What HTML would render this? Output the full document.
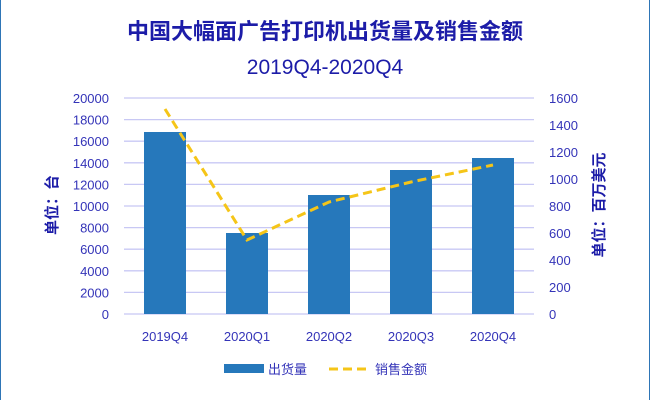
<!DOCTYPE html><html><head><meta charset="utf-8"><style>body{margin:0;background:#fff}svg{display:block}</style></head><body>
<svg width="650" height="400" xmlns="http://www.w3.org/2000/svg" font-family="Liberation Sans, Noto Sans CJK SC, sans-serif">
<rect x="0.5" y="-2" width="649" height="404" fill="#fff" stroke="#2e75b6" stroke-width="1"/>
<text x="325" y="39" text-anchor="middle" font-size="22" font-weight="bold" fill="#1c1ca8" font-family="Noto Sans CJK SC, sans-serif">中国大幅面广告打印机出货量及销售金额</text>
<text x="325" y="74" text-anchor="middle" font-size="21" fill="#1c1ca8">2019Q4-2020Q4</text>
<g stroke="#c8c8f4" stroke-width="1.3">
<line x1="124" x2="534" y1="98" y2="98"/><line x1="124" x2="534" y1="119.6" y2="119.6"/><line x1="124" x2="534" y1="141.2" y2="141.2"/><line x1="124" x2="534" y1="162.8" y2="162.8"/><line x1="124" x2="534" y1="184.4" y2="184.4"/><line x1="124" x2="534" y1="206" y2="206"/><line x1="124" x2="534" y1="227.6" y2="227.6"/><line x1="124" x2="534" y1="249.2" y2="249.2"/><line x1="124" x2="534" y1="270.8" y2="270.8"/><line x1="124" x2="534" y1="292.4" y2="292.4"/><line x1="124" x2="534" y1="314" y2="314"/>
</g>
<g fill="#2678bb">
<rect x="144" y="132" width="42" height="182"/><rect x="226" y="233" width="42" height="81"/><rect x="308" y="195" width="42" height="119"/><rect x="390" y="170" width="42" height="144"/><rect x="472" y="158" width="42" height="156"/>
</g>
<polyline points="165,109 247,240 329,202 411,182 493,165" fill="none" stroke="#f5c518" stroke-width="3" stroke-dasharray="9,5"/>
<g font-size="13" fill="#3434b8" text-anchor="end">
<text x="109" y="103">20000</text><text x="109" y="124.6">18000</text><text x="109" y="146.2">16000</text><text x="109" y="167.8">14000</text><text x="109" y="189.4">12000</text><text x="109" y="211">10000</text><text x="109" y="232.6">8000</text><text x="109" y="254.2">6000</text><text x="109" y="275.8">4000</text><text x="109" y="297.4">2000</text><text x="109" y="319">0</text>
</g>
<g font-size="13" fill="#3434b8" text-anchor="start">
<text x="549" y="103">1600</text><text x="549" y="130">1400</text><text x="549" y="157">1200</text><text x="549" y="184">1000</text><text x="549" y="211">800</text><text x="549" y="238">600</text><text x="549" y="265">400</text><text x="549" y="292">200</text><text x="549" y="319">0</text>
</g>
<g font-size="13" fill="#3434b8" text-anchor="middle">
<text x="165" y="341">2019Q4</text><text x="247" y="341">2020Q1</text><text x="329" y="341">2020Q2</text><text x="411" y="341">2020Q3</text><text x="493" y="341">2020Q4</text>
</g>
<text transform="translate(57,205) rotate(-90)" text-anchor="middle" font-size="15" font-weight="bold" fill="#1c1ca8" font-family="Noto Sans CJK SC, sans-serif">单位：台</text>
<text transform="translate(604,205) rotate(-90)" text-anchor="middle" font-size="15" font-weight="bold" fill="#1c1ca8" font-family="Noto Sans CJK SC, sans-serif">单位：百万美元</text>
<rect x="224" y="364" width="40" height="9" fill="#2678bb"/>
<text x="268" y="374" font-size="13" fill="#3434b8" font-family="Noto Sans CJK SC, sans-serif">出货量</text>
<line x1="329" x2="370" y1="369" y2="369" stroke="#f5c518" stroke-width="3" stroke-dasharray="9,5"/>
<text x="375" y="374" font-size="13" fill="#3434b8" font-family="Noto Sans CJK SC, sans-serif">销售金额</text>
</svg>
</body></html>
